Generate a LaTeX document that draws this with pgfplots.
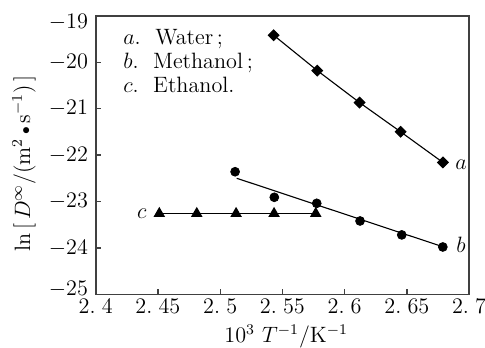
\documentclass[border=0pt]{standalone}
\usepackage{pgfplots}
\pgfplotsset{compat=1.18}
\begin{document}
\fontsize{12}{14}\selectfont
\begin{tikzpicture}
\begin{axis}[
  at={(0,0)}, anchor=south west,
  scale only axis, width=201.7pt, height=150.5pt,
  xmin=2.4, xmax=2.7, ymin=-25, ymax=-19,
  xtick={2.4,2.45,2.5,2.55,2.6,2.65,2.7},
  xticklabels={2.\;4,2.\;45,2.\;5,2.\;55,2.\;6,2.\;65,2.\;7},
  ytick={-25,-24,-23,-22,-21,-20,-19},
  yticklabels={\raisebox{2.7pt}[\height][\depth]{$-25$},$-24$,$-23$,$-22$,$-21$,$-20$,\raisebox{-3.6pt}[\height][\depth]{$-19$}},
  tick align=inside, xtick pos=bottom, ytick pos=left,
  major tick length=3pt,
  tick label style={font=\fontsize{12}{14}\selectfont},
  yticklabel style={inner ysep=0.5pt},
  xticklabel style={inner ysep=1pt, yshift=-1pt},
  axis line style={line width=0.9pt, black!75},
  tick style={line width=0.7pt, black!75},
  xlabel={$10^3\ T^{-1}/\mathrm{K}^{-1}$},
  ylabel={$\ln\,[\,D^{\infty}/(\mathrm{m}^2\,\scalebox{0.7}{$\bullet$}\,\mathrm{s}^{-1})\,]$},
  every axis x label/.style={at={(axis description cs:0.51,-0.15)}, anchor=center, inner sep=1pt, font=\fontsize{12}{14}\selectfont},
  every axis y label/.style={at={(axis description cs:-0.192,0.47)}, rotate=90, anchor=center, font=\fontsize{12}{14}\selectfont},
  clip=false,
]
% a. Water
\addplot[black, line width=0.6pt, mark=square*, mark size=2pt, mark options={rotate=45}]
  coordinates {(2.543,-19.42)(2.578,-20.18)(2.612,-20.87)(2.645,-21.50)(2.679,-22.16)};
% b. Methanol (points and fitted line)
\addplot[black, only marks, mark=*, mark size=2.4pt]
  coordinates {(2.512,-22.36)(2.5435,-22.91)(2.5776,-23.04)(2.6124,-23.42)(2.6459,-23.72)(2.6789,-23.98)};
\addplot[black, line width=0.6pt, no marks]
  coordinates {(2.5133,-22.50)(2.6789,-23.975)};
% c. Ethanol
\addplot[black, line width=0.6pt, mark=triangle*, mark size=3pt]
  coordinates {(2.4511,-23.26)(2.4812,-23.26)(2.5128,-23.26)(2.5433,-23.26)(2.5768,-23.26)};
% curve labels
\node at (axis cs:2.6935,-22.2) {$a$};
\node at (axis cs:2.6935,-23.94) {$b$};
\node at (axis cs:2.437,-23.27) {$c$};
% key
\node[anchor=base west, inner sep=0pt] at (axis cs:2.4219,-19.63) {$a$.~~Water\,;};
\node[anchor=base west, inner sep=0pt] at (axis cs:2.4219,-20.13) {$b$.~~Methanol\,;};
\node[anchor=base west, inner sep=0pt] at (axis cs:2.4219,-20.66) {$c$.~~Ethanol.};
\end{axis}
\pgfresetboundingbox
\path[use as bounding box] (-51.7pt,-28.5pt) rectangle (210.3pt,159pt);
\end{tikzpicture}
\end{document}
